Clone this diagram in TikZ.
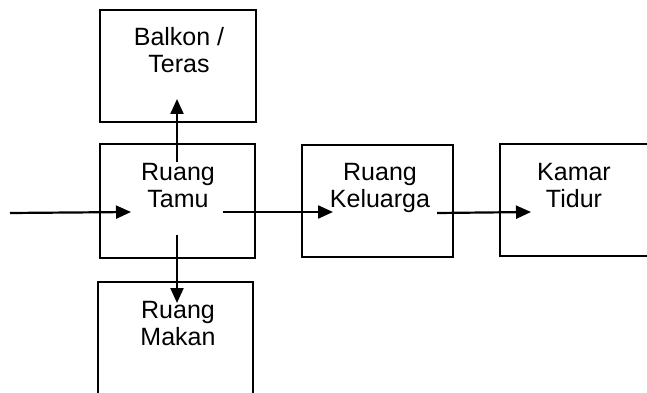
\documentclass[tikz,border=0pt]{standalone}
\usepackage{fontspec}
\setmainfont{Liberation Sans}
\usetikzlibrary{arrows.meta,calc}
\tikzset{
  room/.style={draw=black, line width=2.2pt, inner sep=0pt},
  lbl/.style={anchor=north, inner sep=0pt, align=center, font=\fontsize{25}{27}\selectfont},
  flow/.style={line width=2.2pt, -{Triangle[length=15pt,width=13pt]}}
}
\begin{document}
\begin{tikzpicture}[x=1pt,y=-1pt]
\useasboundingbox (0,0) rectangle (647,393);
\fill[white] (0,0) rectangle (647,393);
\clip (0,0) rectangle (647,393);
% boxes
\draw[room] (100,10) rectangle (256,122) node[pos=0.5] (balkon) {};
\draw[room] (100,144) rectangle (255,258) node[pos=0.5] (tamu) {};
\draw[room] (98,282) rectangle (253,400) node[pos=0.5] (makan) {};
\draw[room] (302,145) rectangle (453,257) node[pos=0.5] (keluarga) {};
\draw[room] (500,144) rectangle (656,256) node[pos=0.5] (kamar) {};
% labels
\node[lbl] (tBalkon) at (179,27) {Balkon /\\Teras};
\node[lbl] (tTamu) at (178,163) {Ruang\\Tamu};
\node[lbl] (tMakan) at (178,301) {Ruang\\Makan};
\node[lbl] (tKel) at (380,163) {Ruang\\Keluarga};
\node[lbl] (tKamar) at (574,163) {Kamar\\Tidur};
% connector coordinates
\coordinate (in) at (10,213);
\coordinate (tamuIn) at (131,212);
\coordinate (tamuOut) at (223,212);
\coordinate (kelIn) at (333,212);
\coordinate (kelOut) at (437,213);
\coordinate (kamarIn) at (531,212);
\coordinate (tamuUp) at (177,162);
\coordinate (balkonIn) at (177,99);
\coordinate (tamuDown) at (177,235);
\coordinate (makanIn) at (177,303);
% connectors
\draw[flow] (in) -- (tamuIn);
\draw[flow] (tamuOut) -- (kelIn);
\draw[flow] (kelOut) -- (kamarIn);
\draw[flow] (tamuUp) -- (balkonIn);
\draw[flow] (tamuDown) -- (makanIn);
\end{tikzpicture}
\end{document}
